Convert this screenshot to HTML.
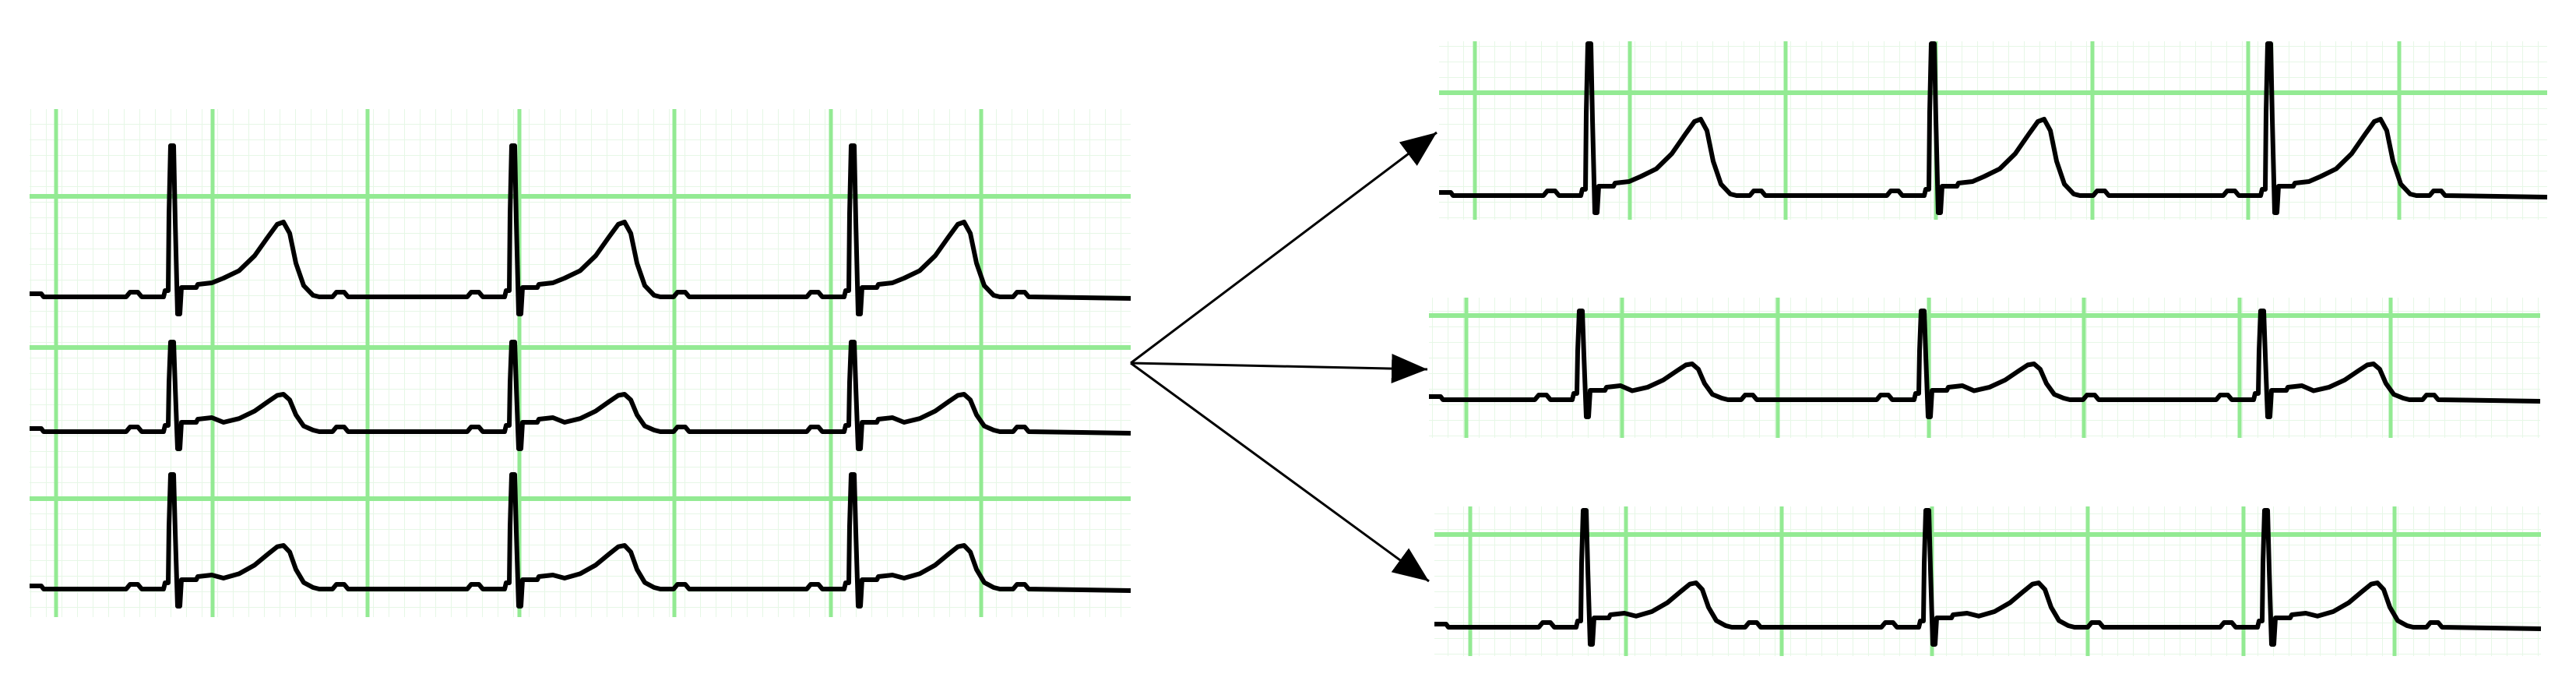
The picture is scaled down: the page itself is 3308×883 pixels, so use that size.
<!DOCTYPE html>
<html><head><meta charset="utf-8"><style>html,body{margin:0;padding:0;background:#fff;width:3308px;height:883px;overflow:hidden}</style></head>
<body>
<svg id="s" xmlns="http://www.w3.org/2000/svg" width="3308" height="883" viewBox="0 0 3308 883">
<defs>
<pattern id="mg" width="20" height="20" patternUnits="userSpaceOnUse"><path d="M20 0V20M0 20H20" stroke="#e6f7e6" stroke-width="2" fill="none"/></pattern>
<marker id="ah" markerUnits="userSpaceOnUse" markerWidth="50" markerHeight="44" refX="46" refY="22" orient="auto"><polygon points="0,3 46,22 0,41" fill="#000"/></marker>
</defs>
<g id="grid"></g>
<g id="ecg" fill="none" stroke="#000" stroke-width="6" stroke-linejoin="round"></g>
<g stroke="#000" stroke-width="3" fill="none">
<line x1="1452" y1="466" x2="1845" y2="170" marker-end="url(#ah)"/>
<line x1="1452" y1="466" x2="1833" y2="474" marker-end="url(#ah)"/>
<line x1="1452" y1="466" x2="1835" y2="746" marker-end="url(#ah)"/>
</g>
</svg>
<script>
var NS="http://www.w3.org/2000/svg";
function el(p,t,a){var e=document.createElementNS(NS,t);for(var k in a)e.setAttribute(k,a[k]);p.appendChild(e);return e;}
var grid=document.getElementById('grid'),ecg=document.getElementById('ecg');
function panel(x1,y1,x2,y2,vl,hl){
 el(grid,'rect',{x:x1,y:y1,width:x2-x1,height:y2-y1,fill:'url(#mg)'});
 vl.forEach(function(x){el(grid,'line',{x1:x,y1:y1,x2:x,y2:y2,stroke:'#93ea93','stroke-width':5});});
 hl.forEach(function(y){el(grid,'line',{x1:x1,y1:y,x2:x2,y2:y,stroke:'#93ea93','stroke-width':6});});
}
function row(x1,x2,y0,S,T,spikes){
 var d='M'+x1+','+(y0-4)+' L'+(x1+15)+','+(y0-4)+' L'+(x1+18)+','+y0;
 spikes.forEach(function(x){
  var p=[[x-60,y0],[x-55,y0-6],[x-45,y0-6],[x-40,y0],[x-12,y0],[x-10,y0-8],[x-6,y0-8],[x-5,y0-S*0.55],[x-3,y0-S],[x+1,y0-S],[x+3,y0-S*0.5],[x+6,y0+22],[x+9,y0+22],[x+11,y0-12],
  [x+30,y0-12],[x+32,y0-16],[x+50,y0-18],[x+65,y0-T*0.25],[x+85,y0-T*0.35],[x+105,y0-T*0.55],[x+122,y0-T*0.8],[x+134,y0-T*0.97],[x+142,y0-T],[x+150,y0-T*0.85],[x+158,y0-T*0.45],[x+168,y0-T*0.15],[x+180,y0-2],[x+188,y0],
  [x+205,y0],[x+210,y0-6],[x+220,y0-6],[x+225,y0]];
  p.forEach(function(q){d+=' L'+q[0]+','+q[1];});
 });
 d+=' L'+x2+','+(y0+2);
 el(ecg,'path',{d:d});
}
panel(38,140,1452,792,[72,273,472,667,866,1067,1260],[252,446,640]);
row(38,1452,381,194,96,[222,660,1096]);
row(38,1452,554,115,48,[222,660,1096]);
row(38,1452,756,147,56,[222,660,1096]);
panel(1848,53,3271,282,[1894,2093,2293,2486,2687,2887,3081],[119]);
row(1848,3271,251,195,98,[2042,2483,2915]);
panel(1835,382,3262,562,[1883,2083,2283,2477,2676,2876,3070],[405]);
row(1835,3262,513,114,46,[2031,2470,2906]);
panel(1842,650,3263,842,[1888,2088,2288,2481,2681,2881,3075],[686]);
row(1842,3263,805,150,57,[2036,2476,2911]);
</script>
</body></html>
